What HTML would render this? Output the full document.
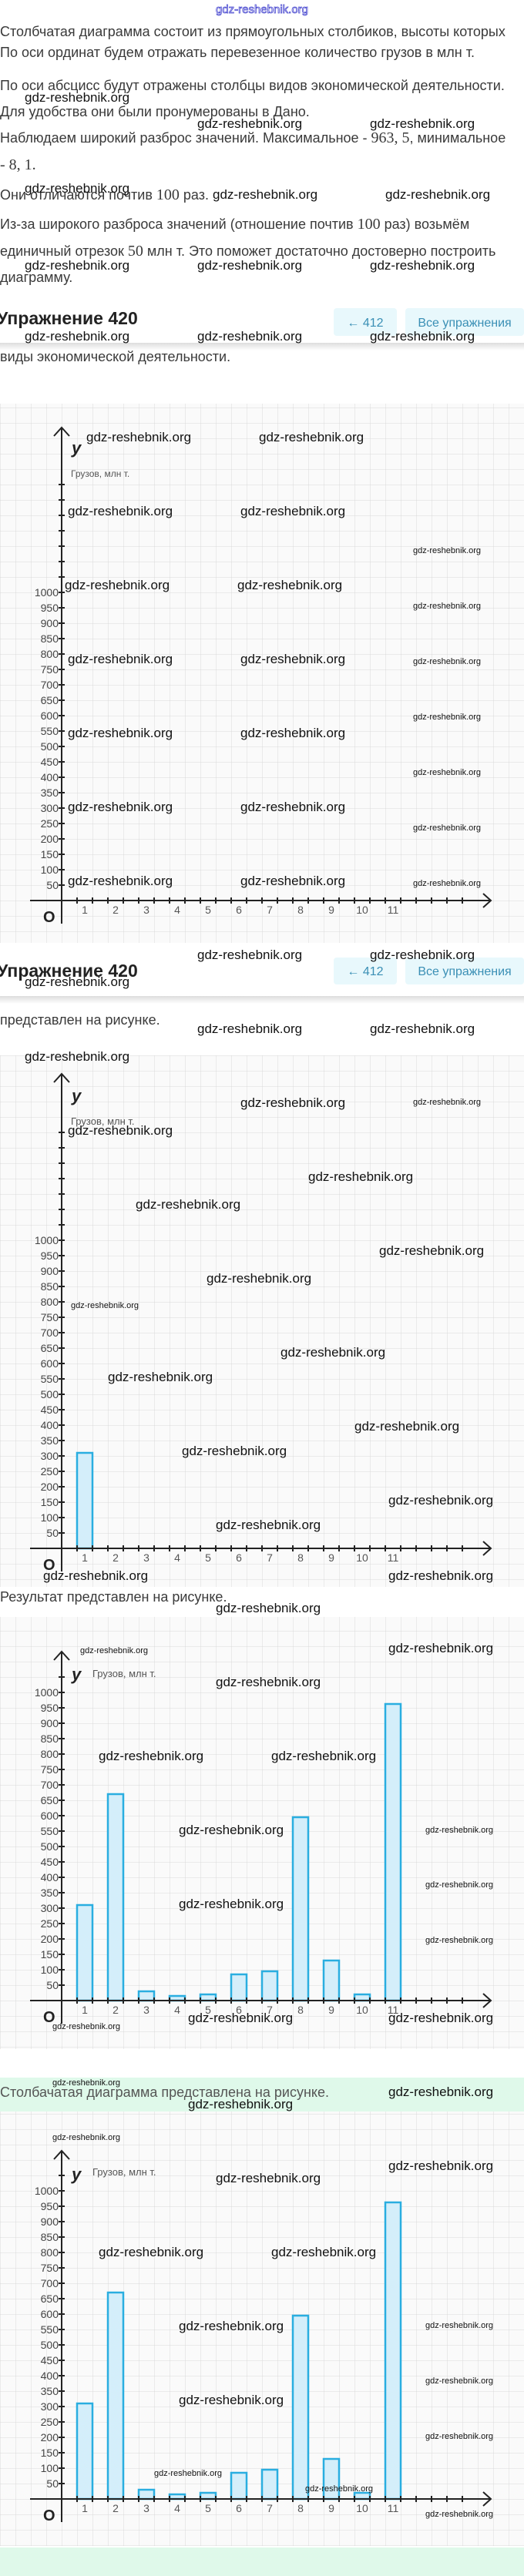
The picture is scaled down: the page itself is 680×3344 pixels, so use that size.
<!DOCTYPE html>
<html><head><meta charset="utf-8"><style>
body{margin:0;background:#fff}
svg{display:block}
.t{font-family:"Liberation Sans","Noto Sans CJK JP",sans-serif;fill:#3a3a3a;font-size:18px}
.m{font-family:"Liberation Serif",serif;font-size:20px}
.w{font-family:"Liberation Sans",sans-serif;fill:#111;font-size:17px}
.ws{font-family:"Liberation Sans",sans-serif;fill:#111;font-size:11px}
.yl{font-family:"Liberation Sans",sans-serif;fill:#444;font-size:14px;text-anchor:end}
.xl{font-family:"Liberation Sans",sans-serif;fill:#555;font-size:14px;text-anchor:middle}
.ax{stroke:#222;stroke-width:2;fill:none}
.bar{fill:#d4eefa;stroke:#2aaee0;stroke-width:2.5}
</style></head><body>
<svg width="680" height="3344" viewBox="0 0 680 3344" xmlns="http://www.w3.org/2000/svg">
<defs>
<pattern id="g" width="20" height="20" patternUnits="userSpaceOnUse">
<rect width="20" height="20" fill="#fafafa"/>
<path d="M0 0H20M0 0V20" stroke="#d9d9d9" stroke-width="1"/>
</pattern>
<linearGradient id="sh" x1="0" y1="0" x2="0" y2="1"><stop offset="0" stop-color="#ddd"/><stop offset="1" stop-color="#fff"/></linearGradient>
<g id="yt"><path class="ax" d="M76 -20H84M76 -40H84M76 -60H84M76 -80H84M76 -100H84M76 -120H84M76 -140H84M76 -160H84M76 -180H84M76 -200H84M76 -220H84M76 -240H84M76 -260H84M76 -280H84M76 -300H84M76 -320H84M76 -340H84M76 -360H84M76 -380H84M76 -400H84M76 -420H84"/>
<path class="ax" d="M100 -4V4M120 -4V4M140 -4V4M160 -4V4M180 -4V4M200 -4V4M220 -4V4M240 -4V4M260 -4V4M280 -4V4M300 -4V4M320 -4V4M340 -4V4M360 -4V4M380 -4V4M400 -4V4M420 -4V4M440 -4V4M460 -4V4M480 -4V4M500 -4V4M520 -4V4M540 -4V4M560 -4V4M580 -4V4M600 -4V4"/>
<path class="ax" d="M39 0H637M627 -9L637 0L627 9"/></g>
</defs>

<text x="340" y="17" text-anchor="middle" style="font-family:'Liberation Sans',sans-serif;font-size:15px;fill:#fff;stroke:#4a4ad0;stroke-width:0.8">gdz-reshebnik.org</text>
<text class="t" x="0" y="47">Столбчатая диаграмма состоит из прямоугольных столбиков, высоты которых</text>
<text class="t" x="0" y="74">По оси ординат будем отражать перевезенное количество грузов в млн т.</text>
<text class="t" x="0" y="117">По оси абсцисс будут отражены столбцы видов экономической деятельности.</text>
<text class="t" x="0" y="151">Для удобства они были пронумерованы в Дано.</text>
<text class="t" x="0" y="185">Наблюдаем широкий разброс значений. Максимальное - <tspan class="m">963, 5</tspan>, минимальное</text>
<text class="t" x="0" y="220"><tspan class="m">- 8, 1.</tspan></text>
<text class="t" x="0" y="259">Они отличаются почтив <tspan class="m">100</tspan> раз.</text>
<text class="t" x="0" y="297">Из-за широкого разброса значений (отношение почтив <tspan class="m">100</tspan> раз) возьмём</text>
<text class="t" x="0" y="332">единичный отрезок <tspan class="m">50</tspan> млн т. Это поможет достаточно достоверно построить</text>
<text class="t" x="0" y="366">диаграмму.</text>
<text x="-4" y="421" style="font-family:'Liberation Sans',sans-serif;font-size:23px;font-weight:bold;fill:#222">Упражнение 420</text>
<rect x="433" y="400" width="82" height="36" rx="4" fill="#e8f8fc"/>
<text x="474" y="424" text-anchor="middle" style="font-family:'Liberation Sans',sans-serif;font-size:16px;fill:#3a8fb5">← 412</text>
<rect x="526" y="400" width="154" height="36" rx="4" fill="#e8f8fc"/>
<text x="603" y="424" text-anchor="middle" style="font-family:'Liberation Sans',sans-serif;font-size:16px;fill:#3a8fb5">Все упражнения</text>
<rect x="0" y="445" width="680" height="10" fill="url(#sh)"/>
<text class="t" x="0" y="469">виды экономической деятельности.</text>

<!-- CHART 1 -->
<g transform="translate(0,1169)">
<rect x="0" y="-645" width="680" height="701" fill="url(#g)"/>
<use href="#yt"/>
<path class="ax" d="M76 -440H84M76 -460H84M76 -480H84M76 -500H84M76 -520H84M76 -540H84"/>
<path class="ax" d="M80 30V-614M70 -603L80 -614L90 -603"/>
<text x="93" y="-580" style="font-family:'Liberation Sans',sans-serif;font-size:22px;font-style:italic;font-weight:bold;fill:#222">y</text>
<text x="92" y="-550" style="font-family:'Liberation Sans',sans-serif;font-size:12px;fill:#555">Грузов, млн т.</text>
<text class="yl" x="76" y="-395">1000</text><text class="yl" x="76" y="-375">950</text><text class="yl" x="76" y="-355">900</text><text class="yl" x="76" y="-335">850</text><text class="yl" x="76" y="-315">800</text><text class="yl" x="76" y="-295">750</text><text class="yl" x="76" y="-275">700</text><text class="yl" x="76" y="-255">650</text><text class="yl" x="76" y="-235">600</text><text class="yl" x="76" y="-215">550</text><text class="yl" x="76" y="-195">500</text><text class="yl" x="76" y="-175">450</text><text class="yl" x="76" y="-155">400</text><text class="yl" x="76" y="-135">350</text><text class="yl" x="76" y="-115">300</text><text class="yl" x="76" y="-95">250</text><text class="yl" x="76" y="-75">200</text><text class="yl" x="76" y="-55">150</text><text class="yl" x="76" y="-35">100</text><text class="yl" x="76" y="-15">50</text>
<text class="xl" x="110" y="17">1</text><text class="xl" x="150" y="17">2</text><text class="xl" x="190" y="17">3</text><text class="xl" x="230" y="17">4</text><text class="xl" x="270" y="17">5</text><text class="xl" x="310" y="17">6</text><text class="xl" x="350" y="17">7</text><text class="xl" x="390" y="17">8</text><text class="xl" x="430" y="17">9</text><text class="xl" x="470" y="17">10</text><text class="xl" x="510" y="17">11</text>
<text x="56" y="28" style="font-family:'Liberation Sans',sans-serif;font-size:20px;font-weight:bold;fill:#222">O</text>
</g>

<!-- CHART 2 -->
<g transform="translate(0,2010)">
<rect x="0" y="-640" width="680" height="690" fill="url(#g)"/>
<rect class="bar" x="100" y="-124" width="20" height="124"/>
<use href="#yt"/>
<path class="ax" d="M76 -440H84M76 -460H84M76 -480H84M76 -500H84M76 -520H84M76 -540H84"/>
<path class="ax" d="M80 30V-616M70 -605L80 -616L90 -605"/>
<text x="93" y="-580" style="font-family:'Liberation Sans',sans-serif;font-size:22px;font-style:italic;font-weight:bold;fill:#222">y</text>
<text x="92" y="-550" style="font-family:'Liberation Sans',sans-serif;font-size:13px;fill:#555">Грузов, млн т.</text>
<text class="yl" x="76" y="-395">1000</text><text class="yl" x="76" y="-375">950</text><text class="yl" x="76" y="-355">900</text><text class="yl" x="76" y="-335">850</text><text class="yl" x="76" y="-315">800</text><text class="yl" x="76" y="-295">750</text><text class="yl" x="76" y="-275">700</text><text class="yl" x="76" y="-255">650</text><text class="yl" x="76" y="-235">600</text><text class="yl" x="76" y="-215">550</text><text class="yl" x="76" y="-195">500</text><text class="yl" x="76" y="-175">450</text><text class="yl" x="76" y="-155">400</text><text class="yl" x="76" y="-135">350</text><text class="yl" x="76" y="-115">300</text><text class="yl" x="76" y="-95">250</text><text class="yl" x="76" y="-75">200</text><text class="yl" x="76" y="-55">150</text><text class="yl" x="76" y="-35">100</text><text class="yl" x="76" y="-15">50</text>
<text class="xl" x="110" y="17">1</text><text class="xl" x="150" y="17">2</text><text class="xl" x="190" y="17">3</text><text class="xl" x="230" y="17">4</text><text class="xl" x="270" y="17">5</text><text class="xl" x="310" y="17">6</text><text class="xl" x="350" y="17">7</text><text class="xl" x="390" y="17">8</text><text class="xl" x="430" y="17">9</text><text class="xl" x="470" y="17">10</text><text class="xl" x="510" y="17">11</text>
<text x="56" y="28" style="font-family:'Liberation Sans',sans-serif;font-size:20px;font-weight:bold;fill:#222">O</text>
</g>
<rect x="0" y="1224" width="680" height="72" fill="#fff"/>
<text x="-4" y="1268" style="font-family:'Liberation Sans',sans-serif;font-size:23px;font-weight:bold;fill:#222">Упражнение 420</text>
<rect x="433" y="1243" width="82" height="35" rx="4" fill="#e8f8fc"/>
<text x="474" y="1266" text-anchor="middle" style="font-family:'Liberation Sans',sans-serif;font-size:16px;fill:#3a8fb5">← 412</text>
<rect x="526" y="1243" width="154" height="35" rx="4" fill="#e8f8fc"/>
<text x="603" y="1266" text-anchor="middle" style="font-family:'Liberation Sans',sans-serif;font-size:16px;fill:#3a8fb5">Все упражнения</text>
<rect x="0" y="1293" width="680" height="10" fill="url(#sh)"/>
<rect x="0" y="1303" width="680" height="67" fill="#fff"/>
<text class="t" x="0" y="1330">представлен на рисунке.</text>

<!-- CHART 3 -->
<rect x="0" y="2060" width="680" height="39" fill="#fff"/>
<text class="t" x="0" y="2079">Результат представлен на рисунке.</text>
<g transform="translate(0,2597)">
<rect x="0" y="-498" width="680" height="561" fill="url(#g)"/>
<rect class="bar" x="100" y="-124" width="20" height="124"/>
<rect class="bar" x="140" y="-268" width="20" height="268"/>
<rect class="bar" x="180" y="-12" width="20" height="12"/>
<rect class="bar" x="220" y="-6" width="20" height="6"/>
<rect class="bar" x="260" y="-8" width="20" height="8"/>
<rect class="bar" x="300" y="-34" width="20" height="34"/>
<rect class="bar" x="340" y="-38" width="20" height="38"/>
<rect class="bar" x="380" y="-238" width="20" height="238"/>
<rect class="bar" x="420" y="-52" width="20" height="52"/>
<rect class="bar" x="460" y="-8" width="20" height="8"/>
<rect class="bar" x="500" y="-385" width="20" height="385"/>
<use href="#yt"/>
<path class="ax" d="M80 30V-453M70 -442L80 -453L90 -442"/>
<text x="93" y="-416" style="font-family:'Liberation Sans',sans-serif;font-size:22px;font-style:italic;font-weight:bold;fill:#222">y</text>
<text x="120" y="-420" style="font-family:'Liberation Sans',sans-serif;font-size:13px;fill:#555">Грузов, млн т.</text>
<text class="yl" x="76" y="-395">1000</text><text class="yl" x="76" y="-375">950</text><text class="yl" x="76" y="-355">900</text><text class="yl" x="76" y="-335">850</text><text class="yl" x="76" y="-315">800</text><text class="yl" x="76" y="-295">750</text><text class="yl" x="76" y="-275">700</text><text class="yl" x="76" y="-255">650</text><text class="yl" x="76" y="-235">600</text><text class="yl" x="76" y="-215">550</text><text class="yl" x="76" y="-195">500</text><text class="yl" x="76" y="-175">450</text><text class="yl" x="76" y="-155">400</text><text class="yl" x="76" y="-135">350</text><text class="yl" x="76" y="-115">300</text><text class="yl" x="76" y="-95">250</text><text class="yl" x="76" y="-75">200</text><text class="yl" x="76" y="-55">150</text><text class="yl" x="76" y="-35">100</text><text class="yl" x="76" y="-15">50</text>
<text class="xl" x="110" y="17">1</text><text class="xl" x="150" y="17">2</text><text class="xl" x="190" y="17">3</text><text class="xl" x="230" y="17">4</text><text class="xl" x="270" y="17">5</text><text class="xl" x="310" y="17">6</text><text class="xl" x="350" y="17">7</text><text class="xl" x="390" y="17">8</text><text class="xl" x="430" y="17">9</text><text class="xl" x="470" y="17">10</text><text class="xl" x="510" y="17">11</text>
<text x="56" y="28" style="font-family:'Liberation Sans',sans-serif;font-size:20px;font-weight:bold;fill:#222">O</text>
</g>

<!-- CHART 4 -->
<rect x="0" y="2697" width="680" height="44" fill="#dff9ea"/>
<text class="t" x="0" y="2722" style="fill:#555">Столбачатая диаграмма представлена на рисунке.</text>
<g transform="translate(0,3244)">
<rect x="0" y="-503" width="680" height="564" fill="url(#g)"/>
<rect class="bar" x="100" y="-124" width="20" height="124"/>
<rect class="bar" x="140" y="-268" width="20" height="268"/>
<rect class="bar" x="180" y="-12" width="20" height="12"/>
<rect class="bar" x="220" y="-6" width="20" height="6"/>
<rect class="bar" x="260" y="-8" width="20" height="8"/>
<rect class="bar" x="300" y="-34" width="20" height="34"/>
<rect class="bar" x="340" y="-38" width="20" height="38"/>
<rect class="bar" x="380" y="-238" width="20" height="238"/>
<rect class="bar" x="420" y="-52" width="20" height="52"/>
<rect class="bar" x="460" y="-8" width="20" height="8"/>
<rect class="bar" x="500" y="-385" width="20" height="385"/>
<use href="#yt"/>
<path class="ax" d="M80 30V-452M70 -441L80 -452L90 -441"/>
<text x="93" y="-414" style="font-family:'Liberation Sans',sans-serif;font-size:22px;font-style:italic;font-weight:bold;fill:#222">y</text>
<text x="120" y="-420" style="font-family:'Liberation Sans',sans-serif;font-size:13px;fill:#555">Грузов, млн т.</text>
<text class="yl" x="76" y="-395">1000</text><text class="yl" x="76" y="-375">950</text><text class="yl" x="76" y="-355">900</text><text class="yl" x="76" y="-335">850</text><text class="yl" x="76" y="-315">800</text><text class="yl" x="76" y="-295">750</text><text class="yl" x="76" y="-275">700</text><text class="yl" x="76" y="-255">650</text><text class="yl" x="76" y="-235">600</text><text class="yl" x="76" y="-215">550</text><text class="yl" x="76" y="-195">500</text><text class="yl" x="76" y="-175">450</text><text class="yl" x="76" y="-155">400</text><text class="yl" x="76" y="-135">350</text><text class="yl" x="76" y="-115">300</text><text class="yl" x="76" y="-95">250</text><text class="yl" x="76" y="-75">200</text><text class="yl" x="76" y="-55">150</text><text class="yl" x="76" y="-35">100</text><text class="yl" x="76" y="-15">50</text>
<text class="xl" x="110" y="17">1</text><text class="xl" x="150" y="17">2</text><text class="xl" x="190" y="17">3</text><text class="xl" x="230" y="17">4</text><text class="xl" x="270" y="17">5</text><text class="xl" x="310" y="17">6</text><text class="xl" x="350" y="17">7</text><text class="xl" x="390" y="17">8</text><text class="xl" x="430" y="17">9</text><text class="xl" x="470" y="17">10</text><text class="xl" x="510" y="17">11</text>
<text x="56" y="28" style="font-family:'Liberation Sans',sans-serif;font-size:20px;font-weight:bold;fill:#222">O</text>
</g>
<rect x="0" y="3307" width="680" height="37" fill="#dff9ea"/>

<!-- watermarks -->
<g>
<text class="w" x="32" y="132">gdz-reshebnik.org</text>
<text class="w" x="256" y="166">gdz-reshebnik.org</text><text class="w" x="480" y="166">gdz-reshebnik.org</text>
<text class="w" x="32" y="250">gdz-reshebnik.org</text>
<text class="w" x="276" y="258">gdz-reshebnik.org</text><text class="w" x="500" y="258">gdz-reshebnik.org</text>
<text class="w" x="32" y="350">gdz-reshebnik.org</text><text class="w" x="256" y="350">gdz-reshebnik.org</text><text class="w" x="480" y="350">gdz-reshebnik.org</text>
<text class="w" x="32" y="442">gdz-reshebnik.org</text><text class="w" x="256" y="442">gdz-reshebnik.org</text><text class="w" x="480" y="442">gdz-reshebnik.org</text>
<text class="w" x="112" y="573">gdz-reshebnik.org</text><text class="w" x="336" y="573">gdz-reshebnik.org</text>
<text class="w" x="88" y="669">gdz-reshebnik.org</text><text class="w" x="312" y="669">gdz-reshebnik.org</text>
<text class="w" x="84" y="765">gdz-reshebnik.org</text><text class="w" x="308" y="765">gdz-reshebnik.org</text>
<text class="w" x="88" y="861">gdz-reshebnik.org</text><text class="w" x="312" y="861">gdz-reshebnik.org</text>
<text class="w" x="88" y="957">gdz-reshebnik.org</text><text class="w" x="312" y="957">gdz-reshebnik.org</text>
<text class="w" x="88" y="1053">gdz-reshebnik.org</text><text class="w" x="312" y="1053">gdz-reshebnik.org</text>
<text class="w" x="88" y="1149">gdz-reshebnik.org</text><text class="w" x="312" y="1149">gdz-reshebnik.org</text>
<text class="w" x="256" y="1245">gdz-reshebnik.org</text><text class="w" x="480" y="1245">gdz-reshebnik.org</text>
<text class="w" x="32" y="1280">gdz-reshebnik.org</text>
<text class="w" x="256" y="1341">gdz-reshebnik.org</text><text class="w" x="480" y="1341">gdz-reshebnik.org</text>
<text class="w" x="32" y="1377">gdz-reshebnik.org</text>
<text class="w" x="312" y="1437">gdz-reshebnik.org</text>
<text class="w" x="88" y="1473">gdz-reshebnik.org</text>
<text class="w" x="400" y="1533">gdz-reshebnik.org</text>
<text class="w" x="176" y="1569">gdz-reshebnik.org</text>
<text class="w" x="492" y="1629">gdz-reshebnik.org</text>
<text class="w" x="268" y="1665">gdz-reshebnik.org</text>
<text class="w" x="364" y="1761">gdz-reshebnik.org</text>
<text class="w" x="140" y="1793">gdz-reshebnik.org</text>
<text class="w" x="460" y="1857">gdz-reshebnik.org</text>
<text class="w" x="236" y="1889">gdz-reshebnik.org</text>
<text class="w" x="504" y="1953">gdz-reshebnik.org</text>
<text class="w" x="280" y="1985">gdz-reshebnik.org</text>
<text class="w" x="56" y="2051">gdz-reshebnik.org</text><text class="w" x="504" y="2051">gdz-reshebnik.org</text>
<text class="w" x="280" y="2093">gdz-reshebnik.org</text>
<text class="w" x="504" y="2145">gdz-reshebnik.org</text>
<text class="w" x="280" y="2189">gdz-reshebnik.org</text>
<text class="w" x="128" y="2285">gdz-reshebnik.org</text><text class="w" x="352" y="2285">gdz-reshebnik.org</text>
<text class="w" x="232" y="2381">gdz-reshebnik.org</text>
<text class="w" x="232" y="2477">gdz-reshebnik.org</text>
<text class="w" x="244" y="2625">gdz-reshebnik.org</text><text class="w" x="504" y="2625">gdz-reshebnik.org</text>
<text class="w" x="504" y="2721">gdz-reshebnik.org</text>
<text class="w" x="244" y="2737">gdz-reshebnik.org</text>
<text class="w" x="504" y="2817">gdz-reshebnik.org</text>
<text class="w" x="280" y="2833">gdz-reshebnik.org</text>
<text class="w" x="128" y="2929">gdz-reshebnik.org</text><text class="w" x="352" y="2929">gdz-reshebnik.org</text>
<text class="w" x="232" y="3025">gdz-reshebnik.org</text>
<text class="w" x="232" y="3121">gdz-reshebnik.org</text>
</g>
<g>
<text class="ws" x="536" y="718">gdz-reshebnik.org</text><text class="ws" x="536" y="790">gdz-reshebnik.org</text><text class="ws" x="536" y="862">gdz-reshebnik.org</text><text class="ws" x="536" y="934">gdz-reshebnik.org</text><text class="ws" x="536" y="1006">gdz-reshebnik.org</text><text class="ws" x="536" y="1078">gdz-reshebnik.org</text><text class="ws" x="536" y="1150">gdz-reshebnik.org</text>
<text class="ws" x="536" y="1434">gdz-reshebnik.org</text>
<text class="ws" x="92" y="1698">gdz-reshebnik.org</text>
<text class="ws" x="104" y="2146">gdz-reshebnik.org</text>
<text class="ws" x="552" y="2379">gdz-reshebnik.org</text><text class="ws" x="552" y="2450">gdz-reshebnik.org</text><text class="ws" x="552" y="2522">gdz-reshebnik.org</text>
<text class="ws" x="68" y="2634">gdz-reshebnik.org</text>
<text class="ws" x="68" y="2707">gdz-reshebnik.org</text>
<text class="ws" x="68" y="2778">gdz-reshebnik.org</text>
<text class="ws" x="552" y="3022">gdz-reshebnik.org</text><text class="ws" x="552" y="3094">gdz-reshebnik.org</text><text class="ws" x="552" y="3166">gdz-reshebnik.org</text>
<text class="ws" x="200" y="3214">gdz-reshebnik.org</text>
<text class="ws" x="396" y="3234">gdz-reshebnik.org</text>
<text class="ws" x="552" y="3267">gdz-reshebnik.org</text>
</g>
</svg>
</body></html>
